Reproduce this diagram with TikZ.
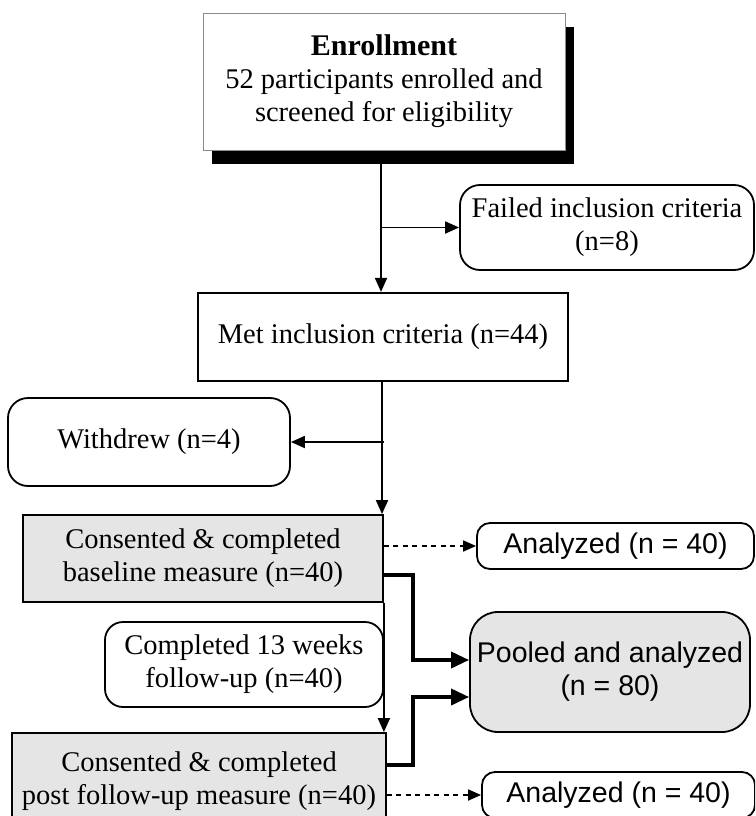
\documentclass[tikz,border=0pt]{standalone}
\usepackage{fontspec}
\setmainfont{Liberation Serif}
\newfontfamily\arialf{Liberation Sans}
\usetikzlibrary{arrows.meta,shadows}
\begin{document}
\begin{tikzpicture}[x=1pt,y=-1pt,
 box/.style={draw, line width=1.8pt, rectangle, inner sep=0pt, align=center, font=\fontsize{28.5}{33}\selectfont},
 rbox/.style={box, rounded corners=20pt},
 sbox/.style={box, rounded corners=13pt, font=\arialf\fontsize{28.5}{33}\selectfont},
 graybox/.style={box, fill=black!10},
 arr/.style={line width=1.8pt, -{Triangle[length=14pt,width=12pt]}},
 tarr/.style={line width=3.5pt, -{Triangle[length=18pt,width=16pt]}},
 darr/.style={line width=1.8pt, dash pattern=on 5pt off 4.5pt, -{Triangle[length=13pt,width=11pt]}},
]
\useasboundingbox (0,0) rectangle (755,816);
\clip (0,0) rectangle (755,816);

\node[box, draw=black!45, line width=0.8pt, fill=white, minimum width=362pt, minimum height=137pt,
  drop shadow={shadow xshift=9pt, shadow yshift=-14pt, fill=black, opacity=1}]
  (enr) at (384,81.5) {\fontsize{30}{33}\selectfont\bfseries Enrollment\\52 participants enrolled and\\screened for eligibility};

\node[rbox, minimum width=294pt, minimum height=85pt] (fail) at (607,227.5) {Failed inclusion criteria\\(n=8)};
\node[box, line width=2.2pt, minimum width=370pt, minimum height=88pt] (met) at (383,337) {Met inclusion criteria (n=44)};
\node[rbox, minimum width=282pt, minimum height=88pt] (wd) at (149,442) {Withdrew (n=4)};
\node[graybox, minimum width=360pt, minimum height=87pt] (c1) at (203,558.5) {Consented \& completed\\baseline measure (n=40)};
\node[sbox, minimum width=277pt, minimum height=46pt] (an1) at (615.5,546) {Analyzed (n = 40)};
\node[sbox, rounded corners=28pt, fill=black!10, minimum width=280pt, minimum height=120pt] (pool) at (610,672) {Pooled and analyzed\\(n = 80)};
\node[rbox, rounded corners=18pt, minimum width=278pt, minimum height=85pt] (comp) at (244,664.5) {Completed 13 weeks\\follow-up (n=40)};
\node[graybox, minimum width=374pt, minimum height=97pt] (c2) at (199,781.5) {Consented \& completed\\post follow-up measure (n=40)};
\node[sbox, minimum width=273pt, minimum height=46pt] (an2) at (618.5,795) {Analyzed (n = 40)};

\coordinate (top) at ([xshift=-3pt,yshift=-14pt]enr.south);
\draw[arr] (top) -- (top |- met.north);
\draw[arr] (top |- fail.west) -- (fail.west);
\draw[arr] ([xshift=-1pt]met.south) -- ([xshift=-1pt]met.south |- c1.north);
\draw[arr] ([xshift=1pt]met.south |- wd.east) -- (wd.east);
\draw[arr] (c1.south east) -- (c1.south east |- c2.north);
\draw[darr] (c1.east |- an1.west) -- (an1.west);
\draw[darr] (c2.east |- an2.west) -- (an2.west);
\coordinate (bx) at ([xshift=-56pt]pool.west);
\draw[tarr, line join=miter] ([yshift=-16.5pt]c1.east) -| ([yshift=12pt]bx) -- ([yshift=12pt]pool.west);
\draw[tarr, line join=miter] ([yshift=16.5pt]c2.east) -| ([yshift=-25pt]bx) -- ([yshift=-25pt]pool.west);
\end{tikzpicture}
\end{document}
